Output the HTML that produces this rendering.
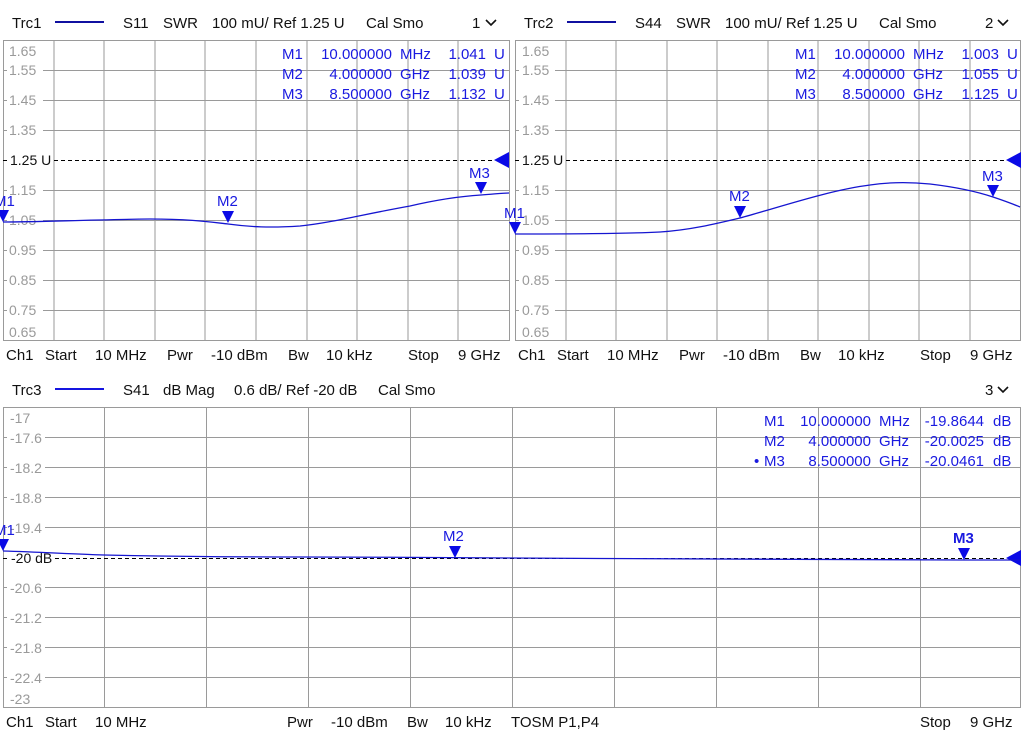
<!DOCTYPE html>
<html><head><meta charset="utf-8"><style>
html,body{margin:0;padding:0;background:#fff;width:1024px;height:736px;overflow:hidden}
svg{display:block}
text{font-family:"Liberation Sans","DejaVu Sans",sans-serif;white-space:pre}
.h{font-size:15px;fill:#111}
.yl{font-size:14px;fill:#9a9a9a}
.mk{font-size:15px;fill:#1a1ae0}
.g{stroke:#9a9a9a;stroke-width:1;fill:none}
.tr{stroke:#1515d0;stroke-width:1.3;fill:none}
.dash{stroke:#000;stroke-width:1;stroke-dasharray:4,3}
.tri{fill:#0a0ae6}
.ml{font-size:15px;fill:#1a1ae0}
.e{text-anchor:end}
</style></head><body>
<svg width="1024" height="736" viewBox="0 0 1024 736">
<!-- ===== Panel 1 ===== -->
<g class="h"><text x="12" y="28">Trc1</text><text x="123" y="28">S11</text><text x="163" y="28">SWR</text><text x="212" y="28">100 mU/ Ref 1.25 U</text><text x="366" y="28">Cal Smo</text><text x="472" y="28">1</text></g>
<line x1="55" y1="22" x2="104" y2="22" stroke="#1010a0" stroke-width="2"/>
<path d="M486 20 l5 5 l5 -5" stroke="#111" stroke-width="1.6" fill="none"/>
<rect class="g" x="3.5" y="40.5" width="506" height="300"/>
<g class="g">
<path d="M54 40v300M104 40v300M155 40v300M205 40v300M256 40v300M307 40v300M357 40v300M408 40v300M458 40v300"/>
<path d="M3 70.5h506M3 100.5h506M3 130.5h506M3 190.5h506M3 220.5h506M3 250.5h506M3 280.5h506M3 310.5h506"/>
</g>
<g>
<rect x="7" y="43" width="36" height="16" fill="#fff"/><text class="yl" x="9" y="56">1.65</text>
<rect x="7" y="62" width="36" height="16" fill="#fff"/><text class="yl" x="9" y="75">1.55</text>
<rect x="7" y="92" width="36" height="16" fill="#fff"/><text class="yl" x="9" y="105">1.45</text>
<rect x="7" y="122" width="36" height="16" fill="#fff"/><text class="yl" x="9" y="135">1.35</text>
<rect x="7" y="182" width="36" height="16" fill="#fff"/><text class="yl" x="9" y="195">1.15</text>
<rect x="7" y="212" width="36" height="16" fill="#fff"/><text class="yl" x="9" y="225">1.05</text>
<rect x="7" y="242" width="36" height="16" fill="#fff"/><text class="yl" x="9" y="255">0.95</text>
<rect x="7" y="272" width="36" height="16" fill="#fff"/><text class="yl" x="9" y="285">0.85</text>
<rect x="7" y="302" width="36" height="16" fill="#fff"/><text class="yl" x="9" y="315">0.75</text>
<rect x="7" y="322" width="36" height="16" fill="#fff"/><text class="yl" x="9" y="337">0.65</text>
</g>
<path class="dash" d="M3 160.5h6M54 160.5h440"/>
<text x="10" y="165" style="font-size:14px;fill:#111">1.25 U</text>
<path class="tri" d="M494 160 l15 -8 v16z"/>
<path class="tr" d="M3 222 C40 222 80 220 150 219 C190 219 210 222 228 224 C250 227 270 228 300 226 C330 223 360 215 410 206 C440 199 465 196 481 195 C495 194 503 193 509 193"/>
<path class="tri" d="M-3 210 h12 l-6 12z"/><text class="mk" x="-6" y="206">M1</text>
<path class="tri" d="M222 211 h12 l-6 12z"/><text class="mk" x="217" y="206">M2</text>
<path class="tri" d="M475 182 h12 l-6 12z"/><text class="mk" x="469" y="178">M3</text>
<g class="ml">
<text x="282" y="59">M1</text><text class="e" x="392" y="59">10.000000</text><text x="400" y="59">MHz</text><text class="e" x="486" y="59">1.041</text><text x="494" y="59">U</text>
<text x="282" y="79">M2</text><text class="e" x="392" y="79">4.000000</text><text x="400" y="79">GHz</text><text class="e" x="486" y="79">1.039</text><text x="494" y="79">U</text>
<text x="282" y="99">M3</text><text class="e" x="392" y="99">8.500000</text><text x="400" y="99">GHz</text><text class="e" x="486" y="99">1.132</text><text x="494" y="99">U</text>
</g>
<g class="h"><text x="6" y="360">Ch1</text><text x="45" y="360">Start</text><text x="95" y="360">10 MHz</text><text x="167" y="360">Pwr</text><text x="211" y="360">-10 dBm</text><text x="288" y="360">Bw</text><text x="326" y="360">10 kHz</text><text x="408" y="360">Stop</text><text x="458" y="360">9 GHz</text></g>

<!-- ===== Panel 2 ===== -->
<g class="h"><text x="524" y="28">Trc2</text><text x="635" y="28">S44</text><text x="676" y="28">SWR</text><text x="725" y="28">100 mU/ Ref 1.25 U</text><text x="879" y="28">Cal Smo</text><text x="985" y="28">2</text></g>
<line x1="567" y1="22" x2="616" y2="22" stroke="#1010a0" stroke-width="2"/>
<path d="M998 20 l5 5 l5 -5" stroke="#111" stroke-width="1.6" fill="none"/>
<rect class="g" x="515.5" y="40.5" width="505" height="300"/>
<g class="g">
<path d="M566 40v300M616 40v300M667 40v300M717 40v300M768 40v300M818 40v300M869 40v300M919 40v300M970 40v300"/>
<path d="M515 70.5h505M515 100.5h505M515 130.5h505M515 190.5h505M515 220.5h505M515 250.5h505M515 280.5h505M515 310.5h505"/>
</g>
<g>
<rect x="519" y="43" width="36" height="16" fill="#fff"/><text class="yl" x="522" y="56">1.65</text>
<rect x="519" y="62" width="36" height="16" fill="#fff"/><text class="yl" x="522" y="75">1.55</text>
<rect x="519" y="92" width="36" height="16" fill="#fff"/><text class="yl" x="522" y="105">1.45</text>
<rect x="519" y="122" width="36" height="16" fill="#fff"/><text class="yl" x="522" y="135">1.35</text>
<rect x="519" y="182" width="36" height="16" fill="#fff"/><text class="yl" x="522" y="195">1.15</text>
<rect x="519" y="212" width="36" height="16" fill="#fff"/><text class="yl" x="522" y="225">1.05</text>
<rect x="519" y="242" width="36" height="16" fill="#fff"/><text class="yl" x="522" y="255">0.95</text>
<rect x="519" y="272" width="36" height="16" fill="#fff"/><text class="yl" x="522" y="285">0.85</text>
<rect x="519" y="302" width="36" height="16" fill="#fff"/><text class="yl" x="522" y="315">0.75</text>
<rect x="519" y="322" width="36" height="16" fill="#fff"/><text class="yl" x="522" y="337">0.65</text>
</g>
<path class="dash" d="M515 160.5h6M566 160.5h440"/>
<text x="522" y="165" style="font-size:14px;fill:#111">1.25 U</text>
<path class="tri" d="M1006 160 l15 -8 v16z"/>
<path class="tr" d="M515 234 C560 234 620 234 660 232 C690 230 715 224 740 218 C780 207 830 190 870 185 C890 182 910 182 930 184 C955 187 975 191 993 197 C1005 201 1013 204 1020 207"/>
<path class="tri" d="M509 222 h12 l-6 12z"/><text class="mk" x="504" y="218">M1</text>
<path class="tri" d="M734 206 h12 l-6 12z"/><text class="mk" x="729" y="201">M2</text>
<path class="tri" d="M987 185 h12 l-6 12z"/><text class="mk" x="982" y="181">M3</text>
<g class="ml">
<text x="795" y="59">M1</text><text class="e" x="905" y="59">10.000000</text><text x="913" y="59">MHz</text><text class="e" x="999" y="59">1.003</text><text x="1007" y="59">U</text>
<text x="795" y="79">M2</text><text class="e" x="905" y="79">4.000000</text><text x="913" y="79">GHz</text><text class="e" x="999" y="79">1.055</text><text x="1007" y="79">U</text>
<text x="795" y="99">M3</text><text class="e" x="905" y="99">8.500000</text><text x="913" y="99">GHz</text><text class="e" x="999" y="99">1.125</text><text x="1007" y="99">U</text>
</g>
<g class="h"><text x="518" y="360">Ch1</text><text x="557" y="360">Start</text><text x="607" y="360">10 MHz</text><text x="679" y="360">Pwr</text><text x="723" y="360">-10 dBm</text><text x="800" y="360">Bw</text><text x="838" y="360">10 kHz</text><text x="920" y="360">Stop</text><text x="970" y="360">9 GHz</text></g>

<!-- ===== Panel 3 ===== -->
<g class="h"><text x="12" y="395">Trc3</text><text x="123" y="395">S41</text><text x="163" y="395">dB Mag</text><text x="234" y="395">0.6 dB/ Ref -20 dB</text><text x="378" y="395">Cal Smo</text><text x="985" y="395">3</text></g>
<line x1="55" y1="389" x2="104" y2="389" stroke="#1515e0" stroke-width="2"/>
<path d="M998 387 l5 5 l5 -5" stroke="#111" stroke-width="1.6" fill="none"/>
<rect class="g" x="3.5" y="407.5" width="1017" height="300"/>
<g class="g">
<path d="M104.5 407v300M206.5 407v300M308.5 407v300M410.5 407v300M512.5 407v300M614.5 407v300M716.5 407v300M818.5 407v300M920.5 407v300"/>
<path d="M3 437.5h1017M3 467.5h1017M3 497.5h1017M3 527.5h1017M3 587.5h1017M3 617.5h1017M3 647.5h1017M3 677.5h1017"/>
</g>
<g>
<rect x="7" y="410" width="36" height="16" fill="#fff"/><text class="yl" x="10" y="423">-17</text>
<rect x="7" y="430" width="38" height="16" fill="#fff"/><text class="yl" x="10" y="443">-17.6</text>
<rect x="7" y="460" width="38" height="16" fill="#fff"/><text class="yl" x="10" y="473">-18.2</text>
<rect x="7" y="490" width="38" height="16" fill="#fff"/><text class="yl" x="10" y="503">-18.8</text>
<rect x="7" y="520" width="38" height="16" fill="#fff"/><text class="yl" x="10" y="533">-19.4</text>
<rect x="7" y="580" width="38" height="16" fill="#fff"/><text class="yl" x="10" y="593">-20.6</text>
<rect x="7" y="610" width="38" height="16" fill="#fff"/><text class="yl" x="10" y="623">-21.2</text>
<rect x="7" y="640" width="38" height="16" fill="#fff"/><text class="yl" x="10" y="653">-21.8</text>
<rect x="7" y="670" width="38" height="16" fill="#fff"/><text class="yl" x="10" y="683">-22.4</text>
<rect x="7" y="688" width="36" height="16" fill="#fff"/><text class="yl" x="10" y="704">-23</text>
</g>
<path class="dash" d="M3 558.5h6M55 558.5h950"/>
<text x="11" y="563" style="font-size:14px;fill:#111">-20 dB</text>
<path class="tri" d="M1006 558 l15 -8 v16z"/>
<path class="tr" d="M3 551 C40 552 70 554 104 555 C150 556 200 557 300 557 C400 557 455 558 600 558.5 C750 559 900 560 964 560 C990 560 1005 560 1020 560"/>
<path class="tri" d="M-3 539 h12 l-6 12z"/><text class="mk" x="-6" y="535">M1</text>
<path class="tri" d="M449 546 h12 l-6 12z"/><text class="mk" x="443" y="541">M2</text>
<path class="tri" d="M958 548 h12 l-6 12z"/><text class="mk" x="953" y="543" style="font-weight:bold">M3</text>
<g class="ml">
<text x="764" y="426">M1</text><text class="e" x="871" y="426">10.000000</text><text x="879" y="426">MHz</text><text class="e" x="984" y="426">-19.8644</text><text x="993" y="426">dB</text>
<text x="764" y="446">M2</text><text class="e" x="871" y="446">4.000000</text><text x="879" y="446">GHz</text><text class="e" x="984" y="446">-20.0025</text><text x="993" y="446">dB</text>
<text x="754" y="466">•</text><text x="764" y="466">M3</text><text class="e" x="871" y="466">8.500000</text><text x="879" y="466">GHz</text><text class="e" x="984" y="466">-20.0461</text><text x="993" y="466">dB</text>
</g>
<g class="h"><text x="6" y="727">Ch1</text><text x="45" y="727">Start</text><text x="95" y="727">10 MHz</text><text x="287" y="727">Pwr</text><text x="331" y="727">-10 dBm</text><text x="407" y="727">Bw</text><text x="445" y="727">10 kHz</text><text x="511" y="727">TOSM P1,P4</text><text x="920" y="727">Stop</text><text x="970" y="727">9 GHz</text></g>
</svg>
</body></html>
